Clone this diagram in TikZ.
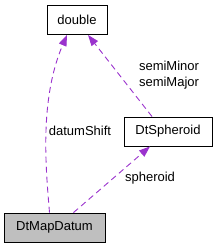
\documentclass[tikz,border=0pt]{standalone}
\usepackage{fontspec}
\setmainfont{Liberation Sans}
\usetikzlibrary{arrows.meta}
\definecolor{relc}{RGB}{154,50,205}
\definecolor{curbg}{RGB}{191,191,191}
\tikzset{
  cls/.style={draw=black,line width=0.9pt,fill=white,minimum height=29pt,
              inner xsep=4pt,font=\fontsize{13}{16}\selectfont},
  cur/.style={cls,fill=curbg},
  rel/.style={-{Triangle[length=11pt,width=8pt]},dash pattern=on 6pt off 4pt,
              relc,line width=0.9pt},
  lbl/.style={font=\fontsize{13}{16}\selectfont,inner sep=0pt,align=left},
}
\begin{document}
\begin{tikzpicture}[x=1pt,y=-1pt]
  \useasboundingbox (0,0) rectangle (216,248);
  \node[cls,minimum width=60pt] (dbl) at (77,20) {double};
  \node[cls,minimum width=88pt] (sph) at (168,131.5) {DtSpheroid};
  \node[cur,minimum width=101pt] (map) at (54.5,227.5) {DtMapDatum};

  \draw[rel] ([xshift=-5pt]map.north) .. controls (46,170) and (39,100) .. ([xshift=-10pt]dbl.south);
  \draw[rel] ([xshift=-16pt]sph.north) -- ([xshift=11pt]dbl.south);
  \draw[rel] ([xshift=19pt]map.north) -- ([xshift=-18pt]sph.south);

  \node[lbl] (lshift) at (80,131) {datumShift};
  \node[lbl] (lsemi) at (169,75) {semiMinor\\semiMajor};
  \node[lbl] (lsph) at (150,178) {spheroid};
\end{tikzpicture}
\end{document}
